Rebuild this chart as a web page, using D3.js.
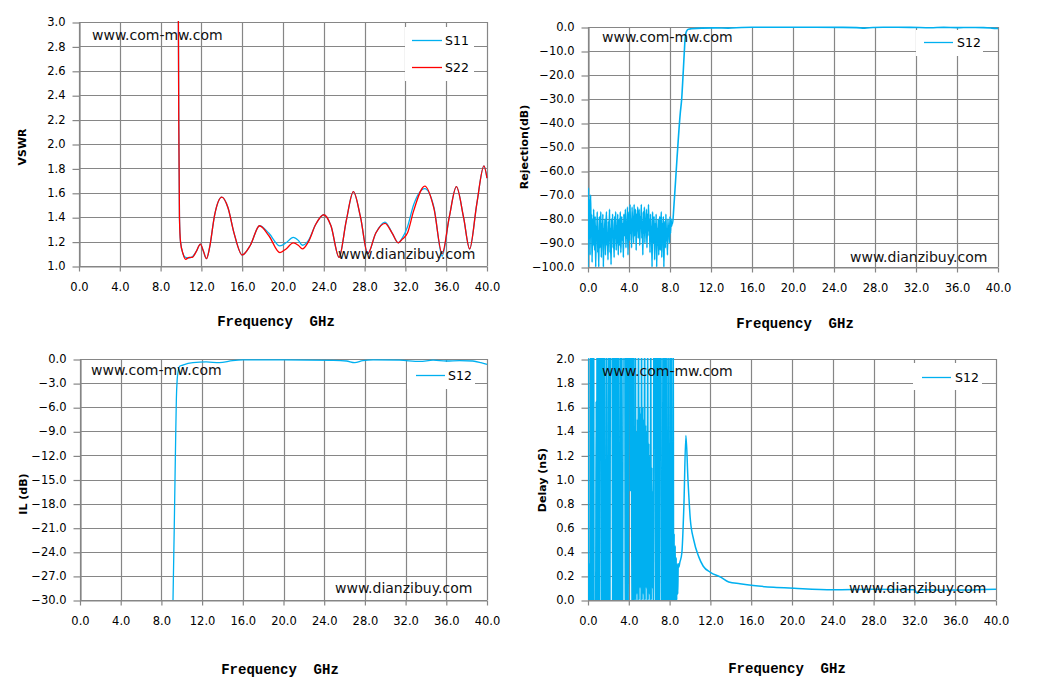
<!DOCTYPE html>
<html><head><meta charset="utf-8">
<script src="https://cdn.jsdelivr.net/npm/d3@7"></script>
<style>body{margin:0;background:#fff}svg{display:block}</style>
</head><body>
<svg id="c" width="1049" height="693"></svg>
<script>
// ---------------- DATA ----------------
const xTicks = [0, 4, 8, 12, 16, 20, 24, 28, 32, 36, 40];
const vswrTicks = [1.0, 1.2, 1.4, 1.6, 1.8, 2.0, 2.2, 2.4, 2.6, 2.8, 3.0];
const rejTicks = [-100, -90, -80, -70, -60, -50, -40, -30, -20, -10, 0];
const ilTicks = [-30, -27, -24, -21, -18, -15, -12, -9, -6, -3, 0];
const delayTicks = [0, 0.2, 0.4, 0.6, 0.8, 1.0, 1.2, 1.4, 1.6, 1.8, 2.0];

// VSWR (GHz / ratio)
const vswrFreq = [9.70, 9.78, 9.85, 9.95, 10.2, 10.45, 10.8, 11.1, 11.5, 11.9, 12.2, 12.5, 12.8, 13.3, 14.0, 14.6, 15.2, 16.0, 16.8, 17.7, 18.6, 19.7, 20.3, 21.0, 21.5, 21.9, 22.5, 23.2, 24.0, 24.7, 25.5, 26.2, 26.9, 27.6, 28.3, 29.1, 30.0, 30.7, 31.3, 31.7, 32.2, 32.8, 33.9, 34.8, 35.6, 36.3, 37.0, 37.7, 38.3, 39.0, 39.7, 40.0];
const s11 = [4.0, 2.2, 1.4, 1.2, 1.10, 1.07, 1.065, 1.075, 1.12, 1.18, 1.12, 1.06, 1.15, 1.42, 1.565, 1.48, 1.27, 1.09, 1.17, 1.33, 1.27, 1.165, 1.19, 1.235, 1.21, 1.17, 1.21, 1.34, 1.42, 1.33, 1.07, 1.37, 1.61, 1.40, 1.10, 1.27, 1.36, 1.27, 1.19, 1.23, 1.32, 1.50, 1.635, 1.48, 1.08, 1.40, 1.65, 1.40, 1.14, 1.51, 1.82, 1.72];
const s22 = [4.0, 2.2, 1.4, 1.2, 1.10, 1.055, 1.07, 1.07, 1.12, 1.18, 1.12, 1.06, 1.15, 1.42, 1.565, 1.48, 1.27, 1.09, 1.17, 1.33, 1.25, 1.11, 1.14, 1.19, 1.17, 1.14, 1.20, 1.34, 1.42, 1.33, 1.07, 1.37, 1.61, 1.40, 1.10, 1.27, 1.35, 1.27, 1.19, 1.22, 1.27, 1.45, 1.655, 1.47, 1.10, 1.40, 1.65, 1.40, 1.14, 1.51, 1.82, 1.72];

// S12 (dB): stop-band samples every 0.05 GHz from 0 to 8.2 GHz, then pass-band points
const s12NoiseStep = 0.05;
const s12Noise = [
  -100, -67, -88, -72, -95, -70, -84, -78, -98, -80, -91, -76, -87, -93, -79, -100, -83, -89, -77, -94,
  -85, -100, -79, -92, -86, -77, -96, -82, -90, -78, -100, -84, -88, -80, -95, -83, -77, -91, -86, -97,
  -81, -89, -76, -94, -84, -99, -80, -87, -78, -92, -85, -96, -79, -88, -77, -93, -83, -90, -78, -95,
  -84, -80, -91, -77, -94, -86, -79, -89, -82, -96, -78, -87, -84, -76, -92, -81, -88, -75, -95, -83,
  -77, -89, -74, -86, -80, -92, -75, -84, -79, -90, -74, -87, -81, -76, -93, -78, -85, -75, -88, -80,
  -76, -91, -79, -84, -74, -88, -81, -95, -77, -86, -75, -90, -80, -83, -76, -92, -78, -87, -74, -85,
  -80, -94, -78, -88, -83, -100, -77, -90, -85, -79, -97, -82, -89, -78, -100, -84, -91, -80, -95, -86,
  -79, -93, -84, -77, -96, -82, -88, -79, -100, -85, -81, -92, -78, -89, -84, -95, -80, -87, -83, -90,
  -79, -86, -80, -83, -82
];
const s12TailFreq = [8.25, 8.36, 8.68, 9.0, 9.14, 9.3, 9.4, 9.47, 9.55, 9.65, 9.8, 10.1, 11.1, 12.4, 13.7, 15.0, 16.0, 20.0, 24.9, 26.2, 27.0, 27.8, 28.8, 31.4, 33.4, 34.7, 36.0, 37.3, 38.6, 39.4, 40.0];
const s12TailDb = [-82, -76, -55, -36, -30, -18, -10, -5, -2.6, -1.5, -0.9, -0.75, -0.45, -0.37, -0.45, -0.2, -0.12, -0.1, -0.16, -0.25, -0.45, -0.2, -0.12, -0.15, -0.3, -0.15, -0.25, -0.2, -0.25, -0.45, -0.66];

// Group delay (nS): stop-band samples every 0.05 GHz from 0 to 8.5 GHz, then points
const delayNoiseStep = 0.05;
const delayNoise = [
  2.8, -0.3, 0.3, 0.25, -0.4,
  2.9, -0.5, 3.2, -0.2, 2.7, -0.4, 3.1, -0.6,
  -0.3, -0.5, -0.2,
  1.65, -0.1, 3.3, -0.4, 2.9, -0.5, 3.1, -0.3, 2.8,
  3.0, 2.7,
  -0.6, 3.2, -0.2, 2.6, -0.5, 2.9, -0.3,
  -0.4, -0.6,
  2.7, -0.4, 1.0, -0.2, 2.8, -0.5, 3.1, -0.4, 2.7,
  3.0, 2.6, 3.2,
  -0.2, 3.0, -0.5, 2.6, -0.3, 3.1, -0.2, 2.7, -0.5, 3.3, -0.4, 2.8, -0.3,
  -0.5, -0.2,
  2.9, -0.6, 2.9, -0.4, 0.95, -0.3, 2.8,
  3.1, 2.7, 3.0,
  -0.5, 2.7, -0.2, 3.1, -0.4, 2.6, -0.3, 3.0,
  2.8, 3.2, 0.9, 3.0, 2.7, -0.3, 2.9, -0.2, 3.1,
  -0.2, 1.2, 0.0, 3.0, -0.1, 1.4, 0.05, 1.5, -0.2, 3.1,
  0.0, 1.6, 0.1, 1.55, -0.1, 2.9, 0.0, 1.6, 0.05, 1.5,
  -0.2, 3.2, 0.0, 1.45, 0.1, 1.4, -0.1, 2.8, 0.0, 1.3,
  0.05, 1.2, -0.2, 3.0, 0.0, 1.1, 0.1, 0.9, -0.2, 2.9,
  3.1, 2.8,
  -0.4, 2.7, -0.2, 3.0, -0.6, 2.9, -0.3, 3.2, -0.2, 2.6,
  3.0, 2.8,
  -0.5, 0.9, -0.3, 2.7, -0.6, 3.0, -0.4, 2.9, -0.3, 3.2, -0.2,
  -0.4, -0.3,
  2.8, -0.2, 0.7, -0.3, 3.0, -0.4, 2.8, -0.2, 0.72, -0.1, 2.9, -0.2, 0.55, -0.1
];
const delayTailFreq = [8.55, 8.6, 8.65, 8.7, 8.75, 8.8, 8.85, 8.9, 9.0, 9.2, 9.4, 9.6, 9.8, 10.03, 10.36, 10.85, 11.3, 12.0, 13.0, 13.8, 14.9, 16.2, 18.2, 20.2, 24.0, 28.0, 32.0, 32.3, 32.6, 36.0, 40.0];
const delayTailNs = [0.45, -0.05, 0.35, 0.0, 0.3, 0.05, 0.3, 0.27, 0.31, 0.39, 0.78, 1.365, 1.0, 0.67, 0.5, 0.36, 0.28, 0.23, 0.19, 0.15, 0.135, 0.12, 0.105, 0.097, 0.086, 0.09, 0.085, 0.055, 0.085, 0.083, 0.09];

// ---------------- BUILD SERIES ----------------
const vswrS11 = vswrFreq.map((f, i) => [f, s11[i]]);
const vswrS22 = vswrFreq.map((f, i) => [f, s22[i]]);
const s12 = s12Noise.map((v, i) => [i * s12NoiseStep, v]).concat(s12TailFreq.map((f, i) => [f, s12TailDb[i]]));
const delay = delayNoise.map((v, i) => [i * delayNoiseStep, v]).concat(delayTailFreq.map((f, i) => [f, delayTailNs[i]]));

const BLUE = "#00b0f0", RED = "#ff0000", GRID = "#868686";
const TICKFONT = "'DejaVu Sans', Verdana, sans-serif";
const svg = d3.select("#c");

const panels = [
  { x0: 79, x1: 487, y0: 22, y1: 266, yDomain: [1, 3], yTicks: vswrTicks, fmt: d3.format(".1f"),
    yTitle: "VSWR", yTitleX: 22, yTitleY: 147, xTitleX: 276, xTitleY: 326,
    series: [{ data: vswrS11, color: BLUE, name: "S11", w: 1.3 }, { data: vswrS22, color: RED, name: "S22", w: 1.3 }],
    box: [405, 27, 69, 54], leg: [[412, 442, 40, 445, 45], [412, 442, 67, 445, 72]],
    wm1: [92, 39.5], wm2: [338, 259] },
  { x0: 588, x1: 998, y0: 27, y1: 267, yDomain: [-100, 0], yTicks: rejTicks, fmt: d3.format(".1f"),
    yTitle: "Rejection(dB)", yTitleX: 524, yTitleY: 147, xTitleX: 795, xTitleY: 328,
    series: [{ data: s12, color: BLUE, name: "S12", w: 1.6 }],
    box: [916, 30, 67, 26], leg: [[924, 953, 42, 957, 47]],
    wm1: [602, 42], wm2: [850, 262] },
  { x0: 80, x1: 487, y0: 359, y1: 600, yDomain: [-30, 0], yTicks: ilTicks, fmt: d3.format(".1f"),
    yTitle: "IL (dB)", yTitleX: 23, yTitleY: 494, xTitleX: 280, xTitleY: 674,
    series: [{ data: s12, color: BLUE, name: "S12", w: 1.3 }],
    box: [407, 362, 68, 27], leg: [[416, 445, 375, 448, 380]],
    wm1: [91, 375], wm2: [335, 593] },
  { x0: 588, x1: 996, y0: 359, y1: 600, yDomain: [0, 2], yTicks: delayTicks, fmt: d3.format(".1f"),
    yTitle: "Delay (nS)", yTitleX: 542, yTitleY: 480, xTitleX: 787, xTitleY: 673,
    series: [{ data: delay, color: BLUE, name: "S12", w: 1.5 }],
    box: [913, 363, 69, 27], leg: [[922, 951, 377, 955, 382]],
    wm1: [602, 376], wm2: [849, 593] }
];

panels.forEach((p, k) => {
  const g = svg.append("g");
  const x = d3.scaleLinear().domain([0, 40]).range([p.x0, p.x1]);
  const y = d3.scaleLinear().domain(p.yDomain).range([p.y1, p.y0]);
  const px = v => Math.round(v) + 0.5;

  // grid
  g.append("g").selectAll("line").data(p.yTicks).join("line")
    .attr("x1", p.x0).attr("x2", p.x1)
    .attr("y1", d => px(y(d))).attr("y2", d => px(y(d)))
    .attr("stroke", GRID).attr("stroke-width", 1.2);
  g.append("g").selectAll("line").data(xTicks).join("line")
    .attr("y1", p.y0).attr("y2", p.y1)
    .attr("x1", d => px(x(d))).attr("x2", d => px(x(d)))
    .attr("stroke", GRID).attr("stroke-width", 1.2);

  // axes (ticks + labels)
  const ay = g.append("g").attr("transform", `translate(${px(x(0))},0)`)
    .call(d3.axisLeft(y).tickValues(p.yTicks).tickFormat(p.fmt).tickSize(7).tickPadding(7).tickSizeOuter(0));
  const ax = g.append("g").attr("transform", `translate(0,${px(y(p.yDomain[0]))})`)
    .call(d3.axisBottom(x).tickValues(xTicks).tickFormat(d3.format(".1f")).tickSize(5).tickPadding(11).tickSizeOuter(0));
  [ay, ax].forEach(a => {
    a.selectAll("path").attr("stroke", GRID).attr("stroke-width", 1.2);
    a.selectAll("line").attr("stroke", GRID).attr("stroke-width", 1.2);
    a.selectAll("text").attr("fill", "#000").style("font-family", TICKFONT).style("font-size", "11.5px");
  });
  ay.selectAll(".tick line").attr("transform", "translate(0,0.5)");

  // legend background
  g.append("rect").attr("x", p.box[0]).attr("y", p.box[1]).attr("width", p.box[2]).attr("height", p.box[3]).attr("fill", "#fff");

  // clip + series
  const cid = "clip" + k;
  svg.append("clipPath").attr("id", cid).append("rect")
    .attr("x", p.x0).attr("y", p.y0 - 1).attr("width", p.x1 - p.x0 + 1).attr("height", p.y1 - p.y0 + 1);
  const line = d3.line().x(d => x(d[0])).y(d => y(d[1])).curve(d3.curveMonotoneX);
  p.series.forEach(s => {
    g.append("path").attr("clip-path", `url(#${cid})`).attr("d", line(s.data))
      .attr("fill", "none").attr("stroke", s.color).attr("stroke-width", s.w).attr("stroke-linejoin", "round");
  });

  // legend items
  p.series.forEach((s, i) => {
    const L = p.leg[i];
    g.append("line").attr("x1", L[0]).attr("x2", L[1]).attr("y1", L[2] + 0.5).attr("y2", L[2] + 0.5)
      .attr("stroke", s.color).attr("stroke-width", 1.3);
    g.append("text").attr("x", L[3]).attr("y", L[4]).text(s.name)
      .style("font-family", TICKFONT).style("font-size", "12.5px").attr("fill", "#000");
  });

  // watermarks
  g.append("text").attr("x", p.wm1[0]).attr("y", p.wm1[1]).text("www.com-mw.com")
    .style("font-family", TICKFONT).style("font-size", "14px").attr("fill", "#111");
  g.append("text").attr("x", p.wm2[0]).attr("y", p.wm2[1]).text("www.dianzibuy.com")
    .style("font-family", TICKFONT).style("font-size", "14px").attr("fill", "#111");

  // titles
  g.append("text").attr("transform", `translate(${p.yTitleX + 4},${p.yTitleY}) rotate(-90)`)
    .attr("text-anchor", "middle").text(p.yTitle)
    .style("font-family", TICKFONT).style("font-weight", "bold").style("font-size", "11px").attr("fill", "#000");
  g.append("text").attr("x", p.xTitleX).attr("y", p.xTitleY).attr("text-anchor", "middle")
    .attr("xml:space", "preserve").style("white-space", "pre")
    .text("Frequency  GHz")
    .style("font-family", "'Liberation Mono', 'DejaVu Sans Mono', monospace").style("font-weight", "bold")
    .style("font-size", "14px").attr("fill", "#000");
});
</script>
</body></html>
